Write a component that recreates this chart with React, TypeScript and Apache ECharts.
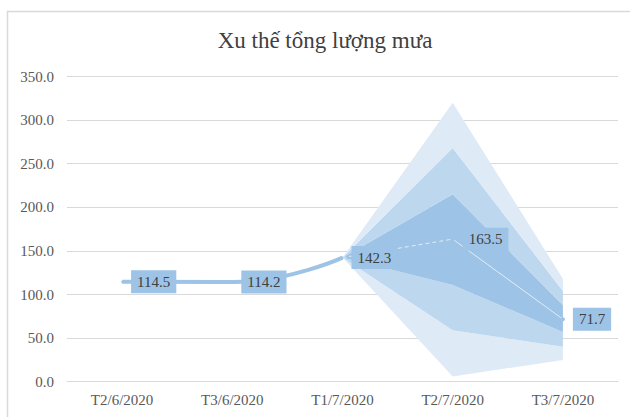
import React, { useEffect, useRef } from "react";
import * as echarts from "echarts";

const categories = ["T2/6/2020", "T3/6/2020", "T1/7/2020", "T2/7/2020", "T3/7/2020"];
const observed: (number | null)[] = [114.5, 114.2, 142.3, null, null];
const forecast: (number | null)[] = [null, null, 142.3, 163.5, 71.7];
const outerUpper: (number | null)[] = [null, null, 142.3, 320, 118];
const midUpper: (number | null)[] = [null, null, 142.3, 268, 104];
const innerUpper: (number | null)[] = [null, null, 142.3, 215, 88];
const innerLower: (number | null)[] = [null, null, 142.3, 111, 57];
const midLower: (number | null)[] = [null, null, 142.3, 59, 40];
const outerLower: (number | null)[] = [null, null, 142.3, 6, 25];
const yTicks = [0, 50, 100, 150, 200, 250, 300, 350];

const OUTER = "#DEEBF7";
const MID = "#BDD7EE";
const INNER = "#9DC3E6";
const FONT = "'Liberation Serif', 'Times New Roman', serif";

function diff(a: (number | null)[], b: (number | null)[]) {
  return a.map((v, i) => (v == null || b[i] == null ? "-" : +(v - (b[i] as number)).toFixed(2)));
}

const labelStyle = {
  show: true,
  position: "right" as const,
  distance: 8,
  backgroundColor: INNER,
  padding: [4, 6, 4, 6],
  color: "#404040",
  fontFamily: FONT,
  fontSize: 15,
};

export default function App() {
  const ref = useRef<HTMLDivElement>(null);
  useEffect(() => {
    document.body.style.margin = "0";
    const chart = echarts.init(ref.current!, null, { renderer: "svg" });
    const band = (name: string, data: any[], color: string | null) => ({
      name,
      type: "line",
      stack: "fan",
      data,
      symbol: "none",
      lineStyle: { width: 0 },
      areaStyle: color ? { color, opacity: 1 } : undefined,
      z: 1,
      silent: true,
    });
    chart.setOption({
      animation: false,
      backgroundColor: "#fff",
      title: {
        text: "Xu thế tổng lượng mưa",
        left: 320,
        top: 24,
        textAlign: "center",
        textStyle: { fontFamily: FONT, fontSize: 23, fontWeight: "normal", color: "#404040" },
      },
      graphic: [
        {
          type: "rect",
          shape: { x: 7.5, y: 11.5, width: 640, height: 420 },
          style: { fill: "none", stroke: "#D9D9D9", lineWidth: 1.5 },
          silent: true,
        },
      ],
      grid: { left: 67, right: 12, top: 76.5, bottom: 35.3 },
      xAxis: {
        type: "category",
        data: categories,
        boundaryGap: true,
        axisLine: { show: true, lineStyle: { color: "#D9D9D9" } },
        axisTick: { show: false },
        axisLabel: { color: "#595959", fontFamily: FONT, fontSize: 15, margin: 11 },
      },
      yAxis: {
        type: "value",
        min: yTicks[0],
        max: yTicks[yTicks.length - 1],
        interval: 50,
        axisLine: { show: false },
        axisTick: { show: false },
        splitLine: { lineStyle: { color: "#D9D9D9", width: 1 } },
        axisLabel: {
          color: "#595959",
          fontFamily: FONT,
          fontSize: 15,
          margin: 13,
          formatter: (v: number) => v.toFixed(1),
        },
      },
      series: [
        band("base", outerLower.map((v) => (v == null ? "-" : v)), null),
        band("o1", diff(midLower, outerLower), OUTER),
        band("m1", diff(innerLower, midLower), MID),
        band("i", diff(innerUpper, innerLower), INNER),
        band("m2", diff(midUpper, innerUpper), MID),
        band("o2", diff(outerUpper, midUpper), OUTER),
        {
          name: "forecastA",
          type: "line",
          smooth: true,
          data: forecast.map((v, i) => (i <= 3 && v != null ? v : "-")),
          symbol: "none",
          lineStyle: { color: "#E4EEF8", width: 1, type: [4, 3] },
          z: 3,
        },
        {
          name: "forecast",
          type: "line",
          smooth: true,
          data: forecast.map((v, i) => (v == null || i < 3 ? "-" : { value: v })),
          symbol: "circle",
          symbolSize: 4,
          itemStyle: { color: INNER },
          lineStyle: { color: "#E4EEF8", width: 1 },
          label: labelStyle,
          z: 4,
        },
        {
          name: "observed",
          type: "line",
          smooth: true,
          data: observed.map((v) => (v == null ? "-" : v)),
          symbol: "circle",
          symbolSize: 2,
          itemStyle: { color: INNER },
          lineStyle: { color: INNER, width: 4 },
          label: labelStyle,
          z: 5,
        },
      ],
    });
    return () => chart.dispose();
  }, []);
  return <div ref={ref} style={{ width: 630, height: 417 }} />;
}
